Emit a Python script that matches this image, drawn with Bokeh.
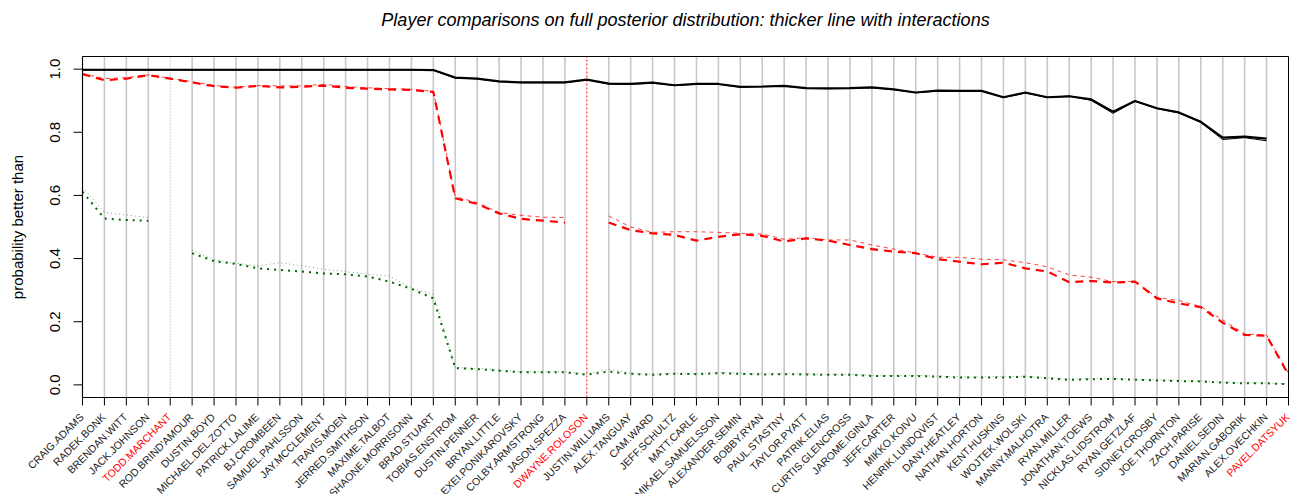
import math
from bokeh.plotting import figure
from bokeh.models import ColumnDataSource, Range1d
from bokeh.embed import file_html
from bokeh.resources import INLINE
from bokeh.core.properties import value

nan = float("nan")

players = [
    "CRAIG.ADAMS", "RADEK.BONK", "BRENDAN.WITT", "JACK.JOHNSON", "TODD.MARCHANT",
    "ROD.BRIND'AMOUR", "DUSTIN.BOYD", "MICHAEL.DEL.ZOTTO", "PATRICK.LALIME", "BJ.CROMBEEN",
    "SAMUEL.PAHLSSON", "JAY.MCCLEMENT", "TRAVIS.MOEN", "JERRED.SMITHSON", "MAXIME.TALBOT",
    "SHAONE.MORRISONN", "BRAD.STUART", "TOBIAS.ENSTROM", "DUSTIN.PENNER", "BRYAN.LITTLE",
    "ALEXEI.PONIKAROVSKY", "COLBY.ARMSTRONG", "JASON.SPEZZA", "DWAYNE.ROLOSON", "JUSTIN.WILLIAMS",
    "ALEX.TANGUAY", "CAM.WARD", "JEFF.SCHULTZ", "MATT.CARLE", "MIKAEL.SAMUELSSON",
    "ALEXANDER.SEMIN", "BOBBY.RYAN", "PAUL.STASTNY", "TAYLOR.PYATT", "PATRIK.ELIAS",
    "CURTIS.GLENCROSS", "JAROME.IGINLA", "JEFF.CARTER", "MIKKO.KOIVU", "HENRIK.LUNDQVIST",
    "DANY.HEATLEY", "NATHAN.HORTON", "KENT.HUSKINS", "WOJTEK.WOLSKI", "MANNY.MALHOTRA",
    "RYAN.MILLER", "JONATHAN.TOEWS", "NICKLAS.LIDSTROM", "RYAN.GETZLAF", "SIDNEY.CROSBY",
    "JOE.THORNTON", "ZACH.PARISE", "DANIEL.SEDIN", "MARIAN.GABORIK", "ALEX.OVECHKIN",
    "PAVEL.DATSYUK",
]

ref_green = "TODD.MARCHANT"
ref_red = "DWAYNE.ROLOSON"
ref_black = "PAVEL.DATSYUK"

# comparisons vs PAVEL.DATSYUK (thick = with interactions)
black_int = [0.998, 0.998, 0.998, 0.998, 0.998, 0.998, 0.998, 0.998, 0.998, 0.998,
             0.998, 0.998, 0.998, 0.998, 0.998, 0.998, 0.997, 0.973, 0.970, 0.961,
             0.958, 0.958, 0.958, 0.967, 0.954, 0.953, 0.957, 0.949, 0.953, 0.953,
             0.944, 0.945, 0.947, 0.940, 0.939, 0.940, 0.942, 0.936, 0.926, 0.932,
             0.931, 0.931, 0.911, 0.926, 0.911, 0.914, 0.904, 0.865, 0.899, 0.876,
             0.863, 0.833, 0.783, 0.786, 0.780, nan]
black_base = [0.997, 0.997, 0.997, 0.997, 0.997, 0.997, 0.997, 0.997, 0.997, 0.997,
              0.997, 0.997, 0.997, 0.997, 0.997, 0.997, 0.996, 0.972, 0.969, 0.960,
              0.957, 0.957, 0.957, 0.966, 0.953, 0.952, 0.956, 0.948, 0.952, 0.952,
              0.943, 0.944, 0.946, 0.939, 0.938, 0.939, 0.941, 0.935, 0.925, 0.931,
              0.930, 0.930, 0.910, 0.924, 0.910, 0.915, 0.901, 0.860, 0.898, 0.875,
              0.861, 0.831, 0.777, 0.783, 0.773, nan]

# comparisons vs DWAYNE.ROLOSON
red_int = [0.984, 0.965, 0.970, 0.981, 0.970, 0.958, 0.946, 0.941, 0.947, 0.942,
           0.944, 0.948, 0.941, 0.938, 0.936, 0.934, 0.928, 0.591, 0.573, 0.543,
           0.526, 0.520, 0.514, nan, 0.514, 0.490, 0.480, 0.475, 0.457, 0.469,
           0.477, 0.472, 0.454, 0.464, 0.457, 0.443, 0.430, 0.422, 0.417, 0.398,
           0.390, 0.382, 0.387, 0.369, 0.359, 0.325, 0.329, 0.324, 0.327, 0.274,
           0.258, 0.246, 0.197, 0.158, 0.156, 0.032]
red_base = [0.986, 0.970, 0.973, 0.982, 0.971, 0.960, 0.948, 0.943, 0.948, 0.947,
            0.947, 0.952, 0.945, 0.941, 0.938, 0.936, 0.930, 0.596, 0.577, 0.546,
            0.537, 0.531, 0.530, nan, 0.535, 0.500, 0.483, 0.485, 0.485, 0.483,
            0.480, 0.478, 0.461, 0.466, 0.459, 0.459, 0.443, 0.430, 0.418, 0.404,
            0.404, 0.398, 0.396, 0.387, 0.374, 0.348, 0.341, 0.327, 0.328, 0.277,
            0.267, 0.248, 0.206, 0.161, 0.158, 0.037]

# comparisons vs TODD.MARCHANT
green_int = [0.612, 0.527, 0.522, 0.520, nan, 0.417, 0.392, 0.383, 0.369, 0.364,
             0.359, 0.353, 0.350, 0.343, 0.327, 0.304, 0.274, 0.053, 0.050, 0.045,
             0.040, 0.040, 0.040, 0.032, 0.042, 0.035, 0.032, 0.035, 0.034, 0.037,
             0.035, 0.033, 0.034, 0.033, 0.032, 0.032, 0.028, 0.028, 0.028, 0.026,
             0.023, 0.023, 0.023, 0.026, 0.021, 0.016, 0.018, 0.019, 0.016, 0.014,
             0.012, 0.011, 0.007, 0.005, 0.005, 0.002]
green_base = [0.626, 0.546, 0.538, 0.530, nan, 0.427, 0.396, 0.385, 0.377, 0.387,
              0.377, 0.366, 0.359, 0.350, 0.345, 0.306, 0.287, 0.055, 0.052, 0.047,
              0.042, 0.042, 0.042, 0.034, 0.049, 0.037, 0.034, 0.037, 0.036, 0.039,
              0.037, 0.035, 0.036, 0.035, 0.034, 0.034, 0.030, 0.030, 0.030, 0.028,
              0.025, 0.025, 0.027, 0.027, 0.023, 0.018, 0.020, 0.021, 0.018, 0.016,
              0.014, 0.013, 0.009, 0.007, 0.006, 0.003]

y_ticks = [0.0, 0.2, 0.4, 0.6, 0.8, 1.0]
y_tick_labels = ["0.0", "0.2", "0.4", "0.6", "0.8", "1.0"]
title_text = "Player comparisons on full posterior distribution: thicker line with interactions"
y_label = "probability better than"

# ---- layout (pixels) ----
W, H = 1291, 494
ML, MR, MT, MB = 82, 3, 56, 97           # plot box inset inside the canvas
Y0, Y1 = -0.04, 1.04                      # R-style 4% padding of [0, 1]
n = len(players)
xs = list(range(1, n + 1))
ppx = (W - ML - MR) / (n - 1)             # pixels per x unit
ppu = (H - MT - MB) / (Y1 - Y0)           # pixels per y unit
FONT = "Liberation Sans"

p = figure(width=W, height=H, output_backend="svg", toolbar_location=None,
           x_range=Range1d(1 - ML / ppx, n + MR / ppx),
           y_range=Range1d(Y0 - MB / ppu, Y1 + MT / ppu),
           x_axis_location=None, y_axis_location=None, title=None,
           min_border=0, min_border_left=0, min_border_right=0,
           min_border_top=0, min_border_bottom=0,
           background_fill_color="white", border_fill_color="white")
p.outline_line_color = None
p.xgrid.visible = False
p.ygrid.visible = False

refs = [ref_green, ref_red, ref_black]
idx = {name: i + 1 for i, name in enumerate(players)}

# vertical gray guide lines at every non-reference player
grid_x = [x for x, name in zip(xs, players) if name not in refs]
p.segment(x0=grid_x, y0=[Y0] * len(grid_x), x1=grid_x, y1=[Y1] * len(grid_x),
          line_color="#c8c8c8", line_width=1.6)

# reference player vertical lines
p.segment(x0=[idx[ref_green]], y0=[Y0], x1=[idx[ref_green]], y1=[Y1],
          line_color="#7fbf7f", line_width=1, line_dash="1 2")
p.segment(x0=[idx[ref_red]], y0=[Y0], x1=[idx[ref_red]], y1=[Y1],
          line_color="red", line_width=1, line_dash="2 2")
p.segment(x0=[idx[ref_black]], y0=[Y0], x1=[idx[ref_black]], y1=[Y1],
          line_color="black", line_width=1, line_dash="1 2")

# series
p.line(xs, green_base, line_color="#006400", line_width=1, line_dash="1 3", line_alpha=0.55)
p.line(xs, green_int, line_color="#006400", line_width=2, line_dash="2 5")
p.line(xs, red_base, line_color="red", line_width=1, line_dash="4 4", line_alpha=0.75)
p.line(xs, red_int, line_color="red", line_width=2.2, line_dash="8 6")
p.line(xs, black_base, line_color="black", line_width=1)
p.line(xs, black_int, line_color="black", line_width=2.2)

# plot box
p.quad(left=[1], right=[n], bottom=[Y0], top=[Y1], fill_alpha=0,
       line_color="black", line_width=1)

# x ticks
p.segment(x0=xs, y0=[Y0] * n, x1=xs, y1=[Y0 - 8 / ppu] * n,
          line_color="black", line_width=1)

# y ticks and labels
p.segment(x0=[1] * len(y_ticks), y0=y_ticks, x1=[1 - 9 / ppx] * len(y_ticks), y1=y_ticks,
          line_color="black", line_width=1)
p.text(x=[1 - 28 / ppx] * len(y_ticks), y=y_ticks, text=y_tick_labels, angle=math.pi / 2,
       text_align="center", text_baseline="middle",
       text_font=value(FONT), text_font_size="15px", text_color="black")

# y axis label
p.text(x=[1 - 65 / ppx], y=[(Y0 + Y1) / 2], text=[y_label], angle=math.pi / 2,
       text_align="center", text_baseline="middle",
       text_font=value(FONT), text_font_size="15px", text_color="black")

# rotated player labels
src = ColumnDataSource(dict(
    x=xs,
    y=[Y0 - 17.5 / ppu] * n,
    name=players,
    label_color=["red" if name in refs else "#1a1a1a" for name in players],
))
p.text(x="x", y="y", text="name", source=src, angle=math.pi / 4, x_offset=-1,
       text_align="right", text_baseline="middle",
       text_font=value(FONT), text_font_size="10.5px", text_color="label_color")

# title
p.text(x=[(1 + n) / 2], y=[Y1 + 37 / ppu], text=[title_text],
       text_align="center", text_baseline="middle",
       text_font=value(FONT), text_font_style="italic",
       text_font_size="18px", text_color="black")

open("out.html", "w").write(file_html(p, INLINE))
